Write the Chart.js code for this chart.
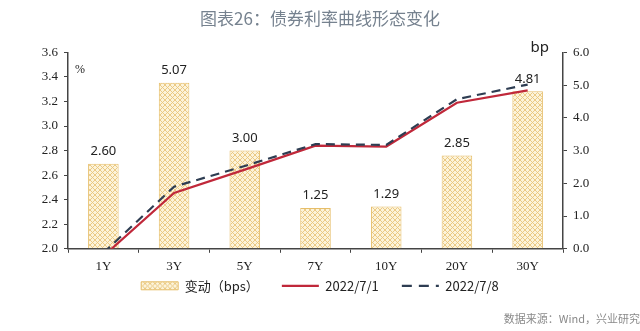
<!DOCTYPE html>
<html>
<head>
<meta charset="utf-8">
<script src="https://cdn.jsdelivr.net/npm/chart.js@4.4.0/dist/chart.umd.min.js"></script>
<style>
html,body{margin:0;padding:0;background:#fff;}
#wrap{width:640px;height:331px;position:relative;}
</style>
</head>
<body>
<div id="wrap"><canvas id="c" width="640" height="331"></canvas></div>
<script>
const categories = ['1Y','3Y','5Y','7Y','10Y','20Y','30Y'];
const changeBps = [2.60, 5.07, 3.00, 1.25, 1.29, 2.85, 4.81];
const yield0701 = [1.94, 2.455, 2.645, 2.84, 2.833, 3.19, 3.29];
const yield0708 = [1.966, 2.506, 2.675, 2.853, 2.846, 3.219, 3.338];
const leftTicks = [2.0, 2.2, 2.4, 2.6, 2.8, 3.0, 3.2, 3.4, 3.6];
const rightTicks = [0, 1, 2, 3, 4, 5, 6];

function makePattern() {
  const p = document.createElement('canvas');
  p.width = 5; p.height = 5;
  const g = p.getContext('2d');
  g.fillStyle = '#FCF3DA';
  g.fillRect(0, 0, 5, 5);
  g.strokeStyle = '#E9C57C';
  g.lineWidth = 0.9;
  g.beginPath();
  g.moveTo(0, 0); g.lineTo(5, 5);
  g.moveTo(5, 0); g.lineTo(0, 5);
  g.stroke();
  return document.getElementById('c').getContext('2d').createPattern(p, 'repeat');
}
const pattern = makePattern();

const serif = "'Liberation Serif', 'Times New Roman', serif";
const cjk = "'Noto Sans CJK SC', 'Noto Sans', sans-serif";

const extraText = {
  id: 'extraText',
  afterInit(chart) {
    const lg = chart.legend;
    if (!lg) return;
    const fit = lg.fit.bind(lg);
    lg.fit = function () { fit(); this.height = 31; };
    const innerDraw = lg._draw.bind(lg);
    lg._draw = function () {
      const c = this.ctx;
      c.save();
      c.translate(0, -16.5);
      innerDraw();
      c.restore();
    };
  },
  afterDraw(chart) {
    const ctx = chart.ctx;
    const a = chart.chartArea;
    ctx.save();
    ctx.fillStyle = '#222';
    ctx.font = "12px " + serif;
    ctx.textAlign = 'left';
    ctx.textBaseline = 'middle';
    ctx.fillText('%', a.left + 7, a.top + 17);
    ctx.font = "15px 'Noto Sans', 'DejaVu Sans', sans-serif";
    ctx.textAlign = 'right';
    ctx.fillText('bp', a.right - 14, a.top - 5);
    const meta = chart.getDatasetMeta(0);
    ctx.font = "13px 'Noto Sans', 'Liberation Sans', sans-serif";
    ctx.textAlign = 'center';
    ctx.textBaseline = 'bottom';
    ctx.fillStyle = '#222';
    meta.data.forEach((el, i) => {
      ctx.fillText(changeBps[i].toFixed(2), el.x, el.y - 6);
    });
    ctx.restore();
  }
};

new Chart(document.getElementById('c'), {
  data: {
    labels: categories,
    datasets: [
      {
        type: 'bar',
        label: '变动（bps）',
        data: changeBps,
        yAxisID: 'y2',
        backgroundColor: pattern,
        borderColor: '#E6BE6A',
        borderWidth: 1,
        barPercentage: 0.6,
        categoryPercentage: 0.72,
        order: 3
      },
      {
        type: 'line',
        label: '2022/7/1',
        data: yield0701,
        yAxisID: 'y',
        borderColor: '#C0283A',
        backgroundColor: '#C0283A',
        borderWidth: 2.2,
        pointRadius: 0,
        tension: 0,
        order: 2
      },
      {
        type: 'line',
        label: '2022/7/8',
        data: yield0708,
        yAxisID: 'y',
        borderColor: '#2E3D52',
        backgroundColor: '#2E3D52',
        borderWidth: 2.2,
        borderDash: [9, 6],
        pointRadius: 0,
        tension: 0,
        order: 1
      }
    ]
  },
  options: {
    responsive: false,
    animation: false,
    devicePixelRatio: 1,
    layout: { padding: { top: 0, bottom: 6, left: 0, right: 0 } },
    plugins: {
      title: {
        display: true,
        text: '图表26：债券利率曲线形态变化',
        color: '#76828F',
        font: { family: cjk, size: 17, weight: 'normal' },
        padding: { top: 8, bottom: 24 }
      },
      subtitle: {
        display: true,
        position: 'bottom',
        align: 'end',
        text: '数据来源：Wind，兴业研究',
        color: '#8A8A8A',
        font: { family: cjk, size: 11, weight: 'normal' },
        padding: { top: 8, bottom: 0 }
      },
      legend: {
        position: 'bottom',
        labels: {
          usePointStyle: true,
          pointStyleWidth: 37,
          boxHeight: 8,
          padding: 23,
          color: '#222',
          font: { family: cjk, size: 13 },
          sort: (a, b) => a.datasetIndex - b.datasetIndex,
          generateLabels(chart) {
            const items = Chart.defaults.plugins.legend.labels.generateLabels(chart);
            items.forEach((it) => {
              if (it.datasetIndex === 0) {
                it.pointStyle = 'rect';
                it.fillStyle = pattern; it.strokeStyle = '#E6BE6A'; it.lineWidth = 1;
              } else {
                it.pointStyle = 'line';
                it.lineWidth = 2.2;
                it.lineDash = it.datasetIndex === 2 ? [10, 7] : [];
              }
            });
            return items;
          }
        }
      },
      tooltip: { enabled: false }
    },
    scales: {
      x: {
        offset: true,
        grid: { display: true, drawOnChartArea: false, drawTicks: true, tickLength: 4, color: '#444', offset: true },
        border: { display: true, color: '#444', width: 1.5 },
        ticks: { color: '#222', font: { family: serif, size: 13 }, padding: 6 },
        afterFit(s) { s.height = 24; }
      },
      y: {
        position: 'left',
        min: 2.0, max: 3.6,
        afterBuildTicks(s) { s.ticks = leftTicks.map(v => ({ value: v })); },
        grid: { drawOnChartArea: false, drawTicks: true, tickLength: 4, color: '#444' },
        border: { display: true, color: '#444', width: 1.5 },
        ticks: { color: '#222', font: { family: serif, size: 13 }, padding: 6, callback: v => v.toFixed(1) },
        afterFit(s) { s.width = 68; }
      },
      y2: {
        position: 'right',
        min: 0, max: 6,
        afterBuildTicks(s) { s.ticks = rightTicks.map(v => ({ value: v })); },
        grid: { drawOnChartArea: false, drawTicks: true, tickLength: 4, color: '#444' },
        border: { display: true, color: '#444', width: 1.5 },
        ticks: { color: '#222', font: { family: serif, size: 13 }, padding: 6, callback: v => v.toFixed(1) },
        afterFit(s) { s.width = 77; }
      }
    }
  },
  plugins: [extraText]
});
</script>
</body>
</html>
